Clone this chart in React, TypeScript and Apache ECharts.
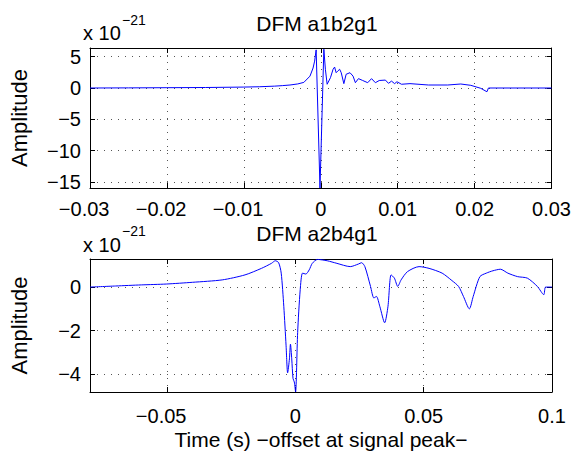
import React, { useEffect, useRef } from "react";
import * as echarts from "echarts";

// Upper panel: DFM a1b2g1 waveform (amplitude in units of 1e-21)
const t1 = [
  -0.03, -0.025, -0.02, -0.015, -0.01, -0.008, -0.006, -0.005, -0.004, -0.003,
  -0.0022, -0.0014, -0.001, -0.0008, -0.0006, -0.0001, 0.0004, 0.0006, 0.00083,
  0.00126, 0.0016, 0.0018, 0.002, 0.0022, 0.00245, 0.00266, 0.003, 0.0033,
  0.0038, 0.0042, 0.0045, 0.0049, 0.0054, 0.0061, 0.0066, 0.0071, 0.0076,
  0.0084, 0.0088, 0.0092, 0.0096, 0.0099, 0.0105, 0.0116, 0.014, 0.0165,
  0.0182, 0.0195, 0.0208, 0.0216, 0.0218, 0.03,
];
const a1 = [
  0, 0.02, 0.05, 0.08, 0.15, 0.2, 0.3, 0.38, 0.48, 0.65,
  0.9, 1.9, 3.2, 4.3, 6.1, -16, 6.2, 3.0, 0.6,
  1.65, 3.0, 3.35, 2.45, 2.7, 3.0, 2.45, 0.7, 2.2,
  2.45, 1.9, 0.85, 1.5, 1.23, 0.85, 1.5, 0.85, 1.2,
  1.27, 0.75, 1.1, 0.7, 1.0, 0.6, 0.7, 0.48, 0.48,
  0.64, 0.43, -0.05, -0.6, 0, 0,
];

// Lower panel: DFM a2b4g1 waveform
const t2 = [
  -0.08, -0.07, -0.06, -0.0503, -0.04, -0.0285, -0.0196, -0.0132, -0.0093,
  -0.0078, -0.0065, -0.0055, -0.0045, -0.0036, -0.003, -0.0023, -0.0019,
  -0.0014, -0.0009, -0.0004, 0.0001, 0.0009, 0.0019, 0.0028, 0.0041, 0.0054,
  0.0066, 0.0086, 0.0124, 0.0162, 0.0214, 0.0246, 0.0258, 0.0271, 0.0293,
  0.0306, 0.0316, 0.0329, 0.0348, 0.0361, 0.0373, 0.0386, 0.0399, 0.0412,
  0.0437, 0.0482, 0.0521, 0.0572, 0.061, 0.0636, 0.0655, 0.0678, 0.0693,
  0.0719, 0.0744, 0.077, 0.0799, 0.0828, 0.0866, 0.0904, 0.0943, 0.0968,
  0.0975, 0.1,
];
const a2 = [
  0, 0.05, 0.1, 0.14, 0.22, 0.33, 0.56, 0.86, 1.09,
  1.21, 1.12, 0.64, -0.88, -2.7, -3.94, -3.3, -2.62,
  -3.3, -4.2, -4.36, -4.82, -2.09, -0.12, 0.64, 0.6, 0.79,
  1.09, 1.27, 1.21, 1.09, 0.94, 1.06, 1.12, 0.94, 0.03,
  -0.5, -0.43, -0.88, -1.64, -0.88, 0.56, 0.41, 0.03, 0.33,
  0.71, 0.94, 0.86, 0.64, 0.3, 0.03, -0.43, -1.0, -0.43,
  0.48, 0.64, 0.75, 0.82, 0.64, 0.48, 0.41, 0.03, -0.35,
  0, 0,
];

const xTicks1 = [-0.03, -0.02, -0.01, 0, 0.01, 0.02, 0.03];
const yTicks1 = [-15, -10, -5, 0, 5];
const xTicks2 = [-0.05, 0, 0.05, 0.1];
const yTicks2 = [-4, -2, 0];

const titles = ["DFM a1b2g1", "DFM a2b4g1"];
const yLabel = "Amplitude";
const xLabel = "Time (s) \u2212offset at signal peak\u2212";

const FONT = "'Liberation Sans', Arial, Helvetica, sans-serif";
const fmt = (v: number) => String(v).replace("-", "\u2212");
// Negative x labels keep their digits centred on the tick: an invisible
// trailing minus balances the visible leading one.
const fmtX = (v: number) => (v < 0 ? fmt(v) + "{pad|\u2212}" : fmt(v));

function axisPair(
  kind: "x" | "y",
  gridIndex: number,
  min: number,
  max: number,
  ticks: number[],
  labelMargin: number,
  extra: any
) {
  const common = {
    type: "value",
    gridIndex,
    min,
    max,
    axisLine: { show: true, onZero: false, lineStyle: { color: "#000", width: 1 } },
    axisTick: {
      show: true,
      inside: true,
      length: 5,
      customValues: ticks,
      lineStyle: { color: "#000" },
    },
  };
  const main = {
    ...common,
    position: kind === "x" ? "bottom" : "left",
    axisLabel: {
      show: true,
      customValues: ticks,
      formatter: kind === "x" ? fmtX : fmt,
      color: "#000",
      fontFamily: FONT,
      fontSize: 20,
      margin: labelMargin,
      showMinLabel: true,
      showMaxLabel: true,
      rich: {
        pad: { color: "rgba(0,0,0,0)", fontFamily: FONT, fontSize: 20 },
      },
    },
    splitLine: {
      show: true,
      lineStyle: { color: "#555", type: [1, 6], width: 1 },
    },
    ...extra,
  };
  const mirror = {
    ...common,
    position: kind === "x" ? "top" : "right",
    axisLabel: { show: false },
    splitLine: { show: false },
  };
  return [main, mirror];
}

export default function App() {
  const ref = useRef<HTMLDivElement>(null);

  useEffect(() => {
    if (!ref.current) return;
    const chart = echarts.init(ref.current, null, { renderer: "svg" });

    const yName = {
      name: yLabel,
      nameLocation: "middle",
      nameRotate: 90,
      nameGap: 60,
      nameTextStyle: { color: "#000", fontFamily: FONT, fontSize: 22 },
    };
    const [x1, x1m] = axisPair("x", 0, -0.03, 0.03, xTicks1, 11, {});
    const [y1, y1m] = axisPair("y", 0, -16, 6.4, yTicks1, 9, yName);
    const [x2, x2m] = axisPair("x", 1, -0.08, 0.1, xTicks2, 14, {
      name: xLabel,
      nameLocation: "middle",
      nameGap: 37,
      nameTextStyle: { color: "#000", fontFamily: FONT, fontSize: 21 },
    });
    const [y2, y2m] = axisPair("y", 1, -4.82, 1.29, yTicks2, 9, yName);

    const textStyle = (size: number) => ({
      fill: "#000",
      fontFamily: FONT,
      fontSize: size,
    });

    chart.setOption({
      animation: false,
      backgroundColor: "#fff",
      grid: [
        { left: 83, top: 48, width: 469, height: 140 },
        { left: 83, top: 259, width: 469, height: 134 },
      ],
      xAxis: [x1, x1m, x2, x2m],
      yAxis: [y1, y1m, y2, y2m],
      series: [
        {
          type: "line",
          xAxisIndex: 0,
          yAxisIndex: 0,
          data: t1.map((t, i) => [t, a1[i]]),
          showSymbol: false,
          lineStyle: { color: "#0000ff", width: 1 },
        },
        {
          type: "line",
          xAxisIndex: 2,
          yAxisIndex: 2,
          data: t2.map((t, i) => [t, a2[i]]),
          showSymbol: false,
          smooth: 0.25,
          lineStyle: { color: "#0000ff", width: 1 },
        },
      ],
      graphic: [
        {
          type: "text",
          x: 317,
          y: 23,
          style: { ...textStyle(21), text: titles[0], align: "center", verticalAlign: "middle" },
        },
        {
          type: "text",
          x: 317,
          y: 233,
          style: { ...textStyle(21), text: titles[1], align: "center", verticalAlign: "middle" },
        },
        {
          type: "text",
          x: 83,
          y: 33,
          style: { ...textStyle(20), text: "x 10", align: "left", verticalAlign: "middle" },
        },
        {
          type: "text",
          x: 122,
          y: 20,
          style: { ...textStyle(14), text: "\u221221", align: "left", verticalAlign: "middle" },
        },
        {
          type: "text",
          x: 83,
          y: 245,
          style: { ...textStyle(20), text: "x 10", align: "left", verticalAlign: "middle" },
        },
        {
          type: "text",
          x: 122,
          y: 231,
          style: { ...textStyle(14), text: "\u221221", align: "left", verticalAlign: "middle" },
        },
      ],
    });

    return () => chart.dispose();
  }, []);

  return (
    <div
      ref={ref}
      style={{ position: "fixed", left: 0, top: 0, width: 574, height: 451 }}
    />
  );
}
